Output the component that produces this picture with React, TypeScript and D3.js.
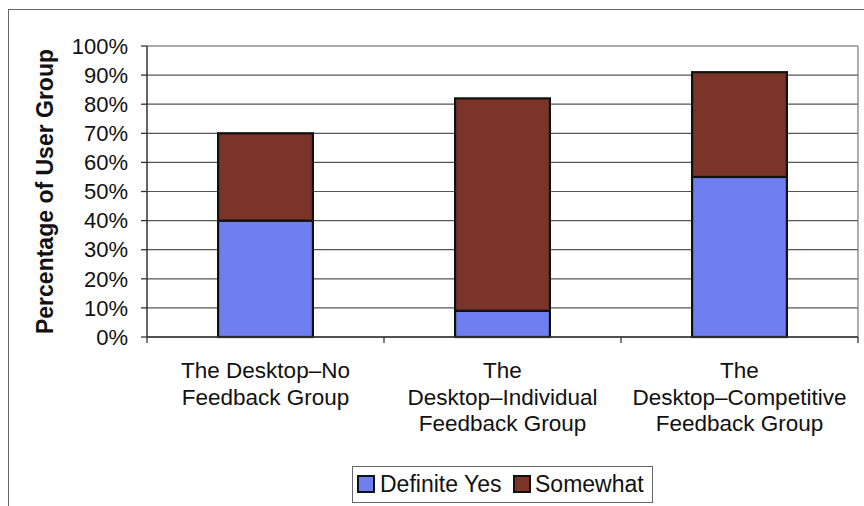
import React from "react";
import * as d3 from "d3";

const categories: string[][] = [
  ["The Desktop–No", "Feedback Group"],
  ["The", "Desktop–Individual", "Feedback Group"],
  ["The", "Desktop–Competitive", "Feedback Group"],
];
const definiteYes = [40, 9, 55];
const somewhat = [30, 73, 36];
const seriesNames = ["Definite Yes", "Somewhat"];
const seriesColors = ["#6f7ff0", "#7a3528"];
const yTicks = [0, 10, 20, 30, 40, 50, 60, 70, 80, 90, 100];

const W = 864;
const H = 506;
const FONT = "'Liberation Sans', Arial, sans-serif";

export default function App() {
  const left = 147;
  const right = 858;
  const top = 46;
  const bottom = 337;

  const x = d3
    .scaleBand<number>()
    .domain(d3.range(categories.length))
    .range([left, right])
    .paddingInner(0.6)
    .paddingOuter(0.3);
  const y = d3.scaleLinear().domain([0, 100]).range([bottom, top]);

  const rows = categories.map((_, i) => ({ i, yes: definiteYes[i], some: somewhat[i] }));
  const stacked = d3.stack<any>().keys(["yes", "some"])(rows);

  const step = x.step();
  const boundaries = d3.range(categories.length + 1).map((k) => left + k * step);

  return (
    <svg
      width={W}
      height={H}
      style={{ position: "absolute", left: 0, top: 0, background: "#fff" }}
      fontFamily={FONT}
    >
      {/* outer frame */}
      <rect x={8.5} y={9.5} width={W + 20} height={H + 20} fill="none" stroke="#666" strokeWidth={1} />

      {/* gridlines */}
      {yTicks.map((t) => (
        <line key={"g" + t} x1={left} x2={right} y1={y(t)} y2={y(t)} stroke="#555" strokeWidth={1.2} />
      ))}
      {/* plot right border */}
      <line x1={right} x2={right} y1={top} y2={bottom} stroke="#777" strokeWidth={1.2} />

      {/* bars */}
      {stacked.map((layer, si) =>
        layer.map((d, ci) => (
          <rect
            key={si + "-" + ci}
            x={x(ci)!}
            width={x.bandwidth()}
            y={y(d[1])}
            height={y(d[0]) - y(d[1])}
            fill={seriesColors[si]}
            stroke="#111"
            strokeWidth={2.2}
          />
        ))
      )}

      {/* y axis */}
      <line x1={left} x2={left} y1={top} y2={bottom} stroke="#333" strokeWidth={1.5} />
      {yTicks.map((t) => (
        <g key={"t" + t}>
          <line x1={left - 6} x2={left} y1={y(t)} y2={y(t)} stroke="#333" strokeWidth={1.3} />
          <text x={128} y={y(t)} dy="0.35em" textAnchor="end" fontSize={22} fill="#111">
            {t + "%"}
          </text>
        </g>
      ))}

      {/* x axis */}
      <line x1={left} x2={right} y1={bottom} y2={bottom} stroke="#333" strokeWidth={1.5} />
      {boundaries.map((bx, k) => (
        <line key={"xb" + k} x1={bx} x2={bx} y1={bottom} y2={bottom + 6} stroke="#333" strokeWidth={1.3} />
      ))}
      {categories.map((lines, ci) => (
        <text key={"c" + ci} textAnchor="middle" fontSize={22.5} fill="#111">
          {lines.map((ln, li) => (
            <tspan key={li} x={x(ci)! + x.bandwidth() / 2} y={378 + li * 26.5}>
              {ln}
            </tspan>
          ))}
        </text>
      ))}

      {/* y label */}
      <text
        transform={`translate(53, ${(top + bottom) / 2}) rotate(-90)`}
        textAnchor="middle"
        fontSize={23}
        fontWeight="bold"
        fill="#111"
      >
        Percentage of User Group
      </text>

      {/* legend */}
      <rect x={352.5} y={466.5} width={300} height={36} fill="#fff" stroke="#666" strokeWidth={1} />
      <rect x={358} y={476} width={16} height={16} fill={seriesColors[0]} stroke="#111" strokeWidth={2} />
      <text x={380} y={492} fontSize={23} fill="#111">{seriesNames[0]}</text>
      <rect x={514} y={476} width={16} height={16} fill={seriesColors[1]} stroke="#111" strokeWidth={2} />
      <text x={535} y={492} fontSize={23} fill="#111">{seriesNames[1]}</text>
    </svg>
  );
}
